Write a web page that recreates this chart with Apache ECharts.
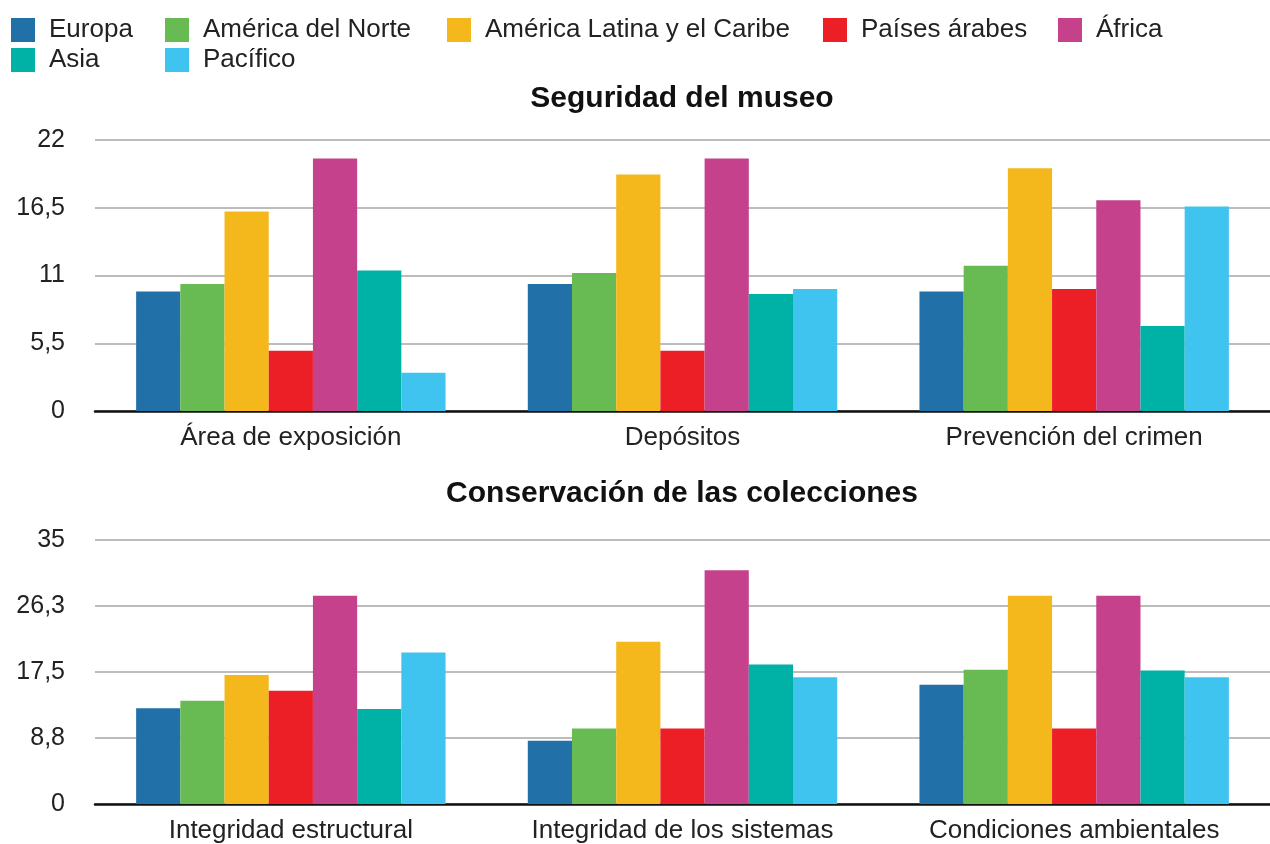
<!DOCTYPE html>
<html>
<head>
<meta charset="utf-8">
<script src="https://cdn.jsdelivr.net/npm/echarts@6/dist/echarts.min.js"></script>
<style>
html,body{margin:0;padding:0;background:#fff;}
#chart{width:1270px;height:844px;}
</style>
</head>
<body>
<div id="chart"></div>
<script>
// ---- data ----
const regions = ['Europa','América del Norte','América Latina y el Caribe','Países árabes','África','Asia','Pacífico'];
const categoriesTop = ['Área de exposición','Depósitos','Prevención del crimen'];
const categoriesBottom = ['Integridad estructural','Integridad de los sistemas','Condiciones ambientales'];

const europaTop   = [9.7, 10.3, 9.7];
const norteTop    = [10.3, 11.2, 11.8];
const latinaTop   = [16.2, 19.2, 19.7];
const arabesTop   = [4.9, 4.9, 9.9];
const africaTop   = [20.5, 20.5, 17.1];
const asiaTop     = [11.4, 9.5, 6.9];
const pacificoTop = [3.1, 9.9, 16.6];

const europaBottom   = [12.7, 8.4, 15.8];
const norteBottom    = [13.7, 10.0, 17.8];
const latinaBottom   = [17.1, 21.5, 27.6];
const arabesBottom   = [15.0, 10.0, 10.0];
const africaBottom   = [27.6, 31.0, 27.6];
const asiaBottom     = [12.6, 18.5, 17.7];
const pacificoBottom = [20.1, 16.8, 16.8];

const tickLabelsTop = ['0','5,5','11','16,5','22'];
const tickLabelsBottom = ['0','8,8','17,5','26,3','35'];

const titleTop = 'Seguridad del museo';
const titleBottom = 'Conservación de las colecciones';

// ---- style ----
const colors = ['#2270a8','#68bb53','#f5b81c','#ec1f26','#c5418b','#00b2a6','#3fc4f0'];
const FONT = '"Liberation Sans", Arial, Helvetica, sans-serif';
const legendPos = [[11,17],[165,17],[447,17],[823,17],[1058,17],[11,47],[165,47]];

const topSeriesData = [europaTop, norteTop, latinaTop, arabesTop, africaTop, asiaTop, pacificoTop];
const bottomSeriesData = [europaBottom, norteBottom, latinaBottom, arabesBottom, africaBottom, asiaBottom, pacificoBottom];

const chart = echarts.init(document.getElementById('chart'), null, {renderer:'canvas'});

const xAxisCommon = {
  type: 'category',
  axisLine: {show: true, lineStyle: {color: '#111', width: 2.5}},
  axisTick: {show: false},
  axisLabel: {fontSize: 26, color: '#222', fontFamily: FONT, margin: 14, interval: 0, hideOverlap: false}
};
const yAxisCommon = {
  type: 'value',
  min: 0,
  axisLine: {show: false},
  axisTick: {show: false},
  splitLine: {lineStyle: {color: '#bcbcbc', width: 2}}
};

const series = [];
regions.forEach((name, i) => {
  series.push({
    name, type: 'bar', xAxisIndex: 0, yAxisIndex: 0,
    data: topSeriesData[i], barGap: '0%', barCategoryGap: '21%',
    itemStyle: {color: colors[i]}
  });
});
regions.forEach((name, i) => {
  series.push({
    name, type: 'bar', xAxisIndex: 1, yAxisIndex: 1,
    data: bottomSeriesData[i], barGap: '0%', barCategoryGap: '21%',
    itemStyle: {color: colors[i]}
  });
});

const legends = regions.map((name, i) => ({
  data: [name],
  left: legendPos[i][0],
  top: legendPos[i][1],
  padding: 0,
  itemWidth: 24,
  itemHeight: 24,
  icon: 'rect',
  textStyle: {fontSize: 26, color: '#222', fontFamily: FONT, padding: [0,0,0,9]}
}));

chart.setOption({
  animation: false,
  color: colors,
  textStyle: {fontFamily: FONT},
  title: [
    {text: titleTop, left: 677, top: 79, textAlign: 'center',
     textStyle: {fontSize: 30, fontWeight: 'bold', color: '#111', fontFamily: FONT}},
    {text: titleBottom, left: 677, top: 474, textAlign: 'center',
     textStyle: {fontSize: 30, fontWeight: 'bold', color: '#111', fontFamily: FONT}}
  ],
  legend: legends,
  grid: [
    {left: 95, right: 0, top: 140, height: 271, containLabel: false},
    {left: 95, right: 0, top: 540, height: 265, containLabel: false}
  ],
  xAxis: [
    Object.assign({}, xAxisCommon, {gridIndex: 0, data: categoriesTop}),
    Object.assign({}, xAxisCommon, {gridIndex: 1, data: categoriesBottom})
  ],
  yAxis: [
    Object.assign({}, yAxisCommon, {gridIndex: 0, max: 22, interval: 5.5,
      axisLabel: {fontSize: 25, color: '#222', fontFamily: FONT, margin: 30,
        formatter: (v, idx) => tickLabelsTop[idx]}}),
    Object.assign({}, yAxisCommon, {gridIndex: 1, max: 35, interval: 8.75,
      axisLabel: {fontSize: 25, color: '#222', fontFamily: FONT, margin: 30,
        formatter: (v, idx) => tickLabelsBottom[idx]}})
  ],
  series
});
</script>
</body>
</html>
